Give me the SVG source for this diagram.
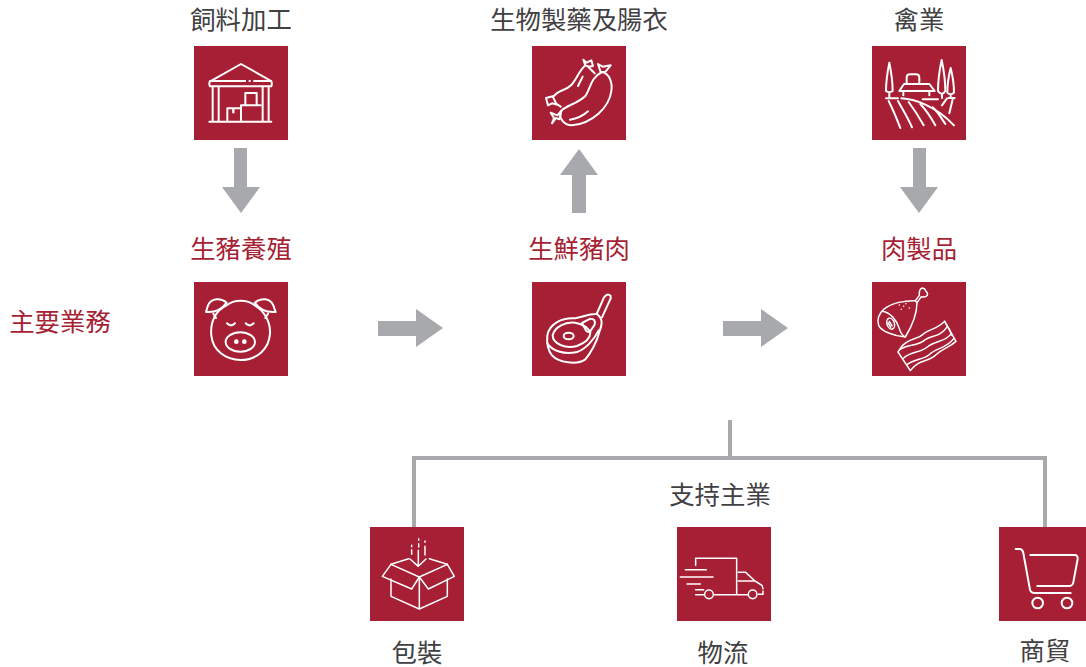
<svg xmlns="http://www.w3.org/2000/svg" width="1086" height="667" viewBox="0 0 1086 667">
<style>
text{font-family:"Noto Sans CJK TC","Noto Sans CJK SC",sans-serif;font-size:25.4px;fill:#414042;text-anchor:middle}
text.r{fill:#a61f35}
.b{fill:#a61f35}
.i{fill:none;stroke:#fff;stroke-width:6;stroke-linecap:round;stroke-linejoin:round}
.t{stroke-width:4.5}
.ar{fill:#a7a9ac}
.ln{fill:none;stroke:#a7a9ac;stroke-width:4}
</style>
<rect width="1086" height="667" fill="#fff"/>
<g id="connectors">
<path class="ar" d="M234 148H247V187H260L241 213L222 187H234Z"/>
<path class="ar" d="M572 213H586V175H598L579 149L560 175H572Z"/>
<path class="ar" d="M913 148H926V187H938L919 213L900 187H913Z"/>
<path class="ar" d="M378 321H416V309L443 328L416 347V336H378Z"/>
<path class="ar" d="M723 321H761V309L788 328L761 347V336H723Z"/>
<path class="ln" d="M730 420V458M414 527V458H1045V527"/>
</g>
<text id="label-main" class="r" x="60" y="331">主要業務</text>
<text id="label-support" x="720" y="504">支持主業</text>

<g id="feed"><text x="241" y="29">飼料加工</text><rect class="b" x="194" y="46" width="94" height="94"/>
<g transform="translate(184 36) scale(.3333)"><g class="i">
<path d="M84 133L171 84L258 133"/><path d="M78 135H262Q265 143 262 151H78Q74 143 78 135Z"/>
<path d="M86 152V256M104 152V256M236 152V256M254 152V256M76 257H262"/>
<path d="M130 256V217H171V256M171 256V208H230M184 206V171H218V206"/></g>
<path d="M186 135h8M200 135h8" stroke="#a61f35" stroke-width="6" fill="none"/>
<path d="M148 218V232" stroke="#fff" stroke-width="7" fill="none"/></g></g>

<g id="biotech"><text x="579" y="29">生物製藥及腸衣</text><rect class="b" x="532" y="46" width="94" height="94"/>
<g transform="translate(522 36) scale(.3333)"><g class="i">
<path d="M188 90C172 104 162 132 148 147C130 165 112 160 94 182"/>
<path d="M198 92C204 98 212 106 218 112M104 204L116 212"/>
<path d="M184 71L194 80L208 73L213 90L200 92L190 88Z"/><path d="M72 186L92 181L104 206L90 202L78 208Z"/>
<path d="M240 108C262 112 272 140 268 165C262 215 210 262 150 268C125 268 108 245 118 225C130 208 165 205 190 180C205 160 205 125 240 108Z"/>
<path d="M228 84L242 92L266 88L250 108H236Z"/><path d="M86 230L106 238L118 224L112 250L102 246L90 262L96 246Z"/>
<path d="M144 251C165 248 185 238 198 226M168 150L182 122"/></g></g></g>

<g id="poultry"><text x="919" y="29">禽業</text><rect class="b" x="872" y="46" width="94" height="94"/>
<g transform="translate(862 36) scale(.3333)"><g class="i">
<path d="M82 80C76 110 72 145 72 165Q82 172 92 165C92 145 88 110 82 80ZM82 170V186"/>
<path d="M239 72C232 105 228 145 228 165Q240 182 250 165C250 145 246 105 239 72ZM240 175V186"/>
<path d="M266 96C260 120 256 150 256 170Q266 180 276 170C276 150 272 120 266 96ZM266 180V186"/>
<path d="M72 187H108M118 187C160 190 220 210 276 268M182 190H228M260 186H278"/>
<path d="M134 143V125Q134 115 144 115H162Q172 115 172 125V143"/><path d="M112 165L126 144H202L218 165ZM124 166V178M202 166V178"/>
<path d="M80 195C95 225 105 250 115 276M108 195C125 225 140 250 150 274M140 198C160 225 175 250 185 268M175 204C195 225 210 250 220 268M212 214C230 230 240 250 250 264M240 208L255 187M262 232L272 190"/></g></g></g>

<g id="hog"><text class="r" x="241" y="258">生豬養殖</text><rect class="b" x="194" y="282" width="94" height="94"/>
<g transform="translate(184 272) scale(.3333)"><g class="i">
<path d="M128 100C95 115 78 150 82 190C86 235 125 264 170 264C220 264 255 230 258 185C260 150 240 115 212 100C190 82 150 82 128 100Z"/>
<path d="M128 92C110 76 82 78 72 100L66 120C90 122 112 115 128 92Z"/><path d="M212 92C232 76 258 78 268 100L275 120C250 122 228 115 212 92Z"/>
<path d="M88 125L96 138M252 125L244 138"/>
<path d="M129 154Q141 166 153 154M185 154Q197 166 209 154"/>
<ellipse cx="169" cy="210" rx="44" ry="29"/></g>
<circle cx="157" cy="209" r="7" fill="#fff"/><circle cx="181" cy="209" r="7" fill="#fff"/></g></g>

<g id="meat"><text class="r" x="579" y="258">生鮮豬肉</text><rect class="b" x="532" y="282" width="94" height="94"/>
<g transform="translate(522 272) scale(.3333)"><g class="i">
<path d="M224 126L246 76Q256 62 266 72Q268 80 262 88L240 136"/>
<path d="M224 126C205 124 180 136 160 139C120 136 82 155 76 190C74 210 78 235 90 250C110 272 165 280 190 262C205 245 225 210 232 180C240 160 245 140 224 126Z"/>
<path d="M76 215C90 235 125 250 165 240C190 232 215 205 230 175"/>
<path d="M160 152C130 148 98 165 92 190C92 215 130 232 165 222C190 212 205 198 205 182C198 165 180 156 160 152Z"/>
<path d="M180 153L205 140Q222 140 218 158L205 178Q198 182 192 176Z"/>
<ellipse cx="140" cy="192" rx="15" ry="10"/></g></g></g>

<g id="products"><text class="r" x="919" y="258">肉製品</text><rect class="b" x="872" y="282" width="94" height="94"/>
<g transform="translate(862 272) scale(.3333)"><g class="i t">
<path d="M160 86L172 70Q170 50 182 48Q190 50 192 58Q198 62 196 70Q190 78 178 74L165 92"/>
<path d="M160 86C130 85 90 92 65 112C50 125 44 145 50 160C58 178 95 192 130 195C145 170 165 130 165 92Z"/>
<path d="M62 118C85 122 105 145 112 170C115 180 120 190 128 194"/>
<ellipse cx="86" cy="155" rx="11" ry="17" transform="rotate(-18 86 155)"/><path d="M82 148L90 162M78 152L86 166"/>
<path d="M112 99v.1M125 103v.1M132 95v.1M118 112v.1M142 108v.1"/>
<path d="M120 222C145 195 165 205 185 185C205 170 225 172 248 148L282 208C260 228 240 230 220 250C195 272 170 262 145 296L108 240Z"/>
<path d="M115 232C140 215 165 225 190 203C210 190 235 195 256 164M125 258C150 235 175 245 200 222C225 205 250 210 268 185M135 278C160 258 185 265 205 245C225 228 255 228 275 200"/>
<path d="M248 148L262 172L270 190"/></g></g></g>

<g id="packaging"><text x="417" y="662">包裝</text><rect class="b" x="370" y="527" width="94" height="94"/>
<g transform="translate(360 517) scale(.3333)"><g class="i t">
<path d="M93 186V238L178 276L262 238V186M178 180V276"/>
<path d="M178 180L93 142L67 178L155 216Z"/><path d="M178 180L262 142L283 178L205 216Z"/>
<path d="M93 142L146 125M262 142L208 125M150 126L175 148L198 126M175 146V100"/>
<path d="M155 85V89M155 98V112M176 65V70M176 80V90M195 72V76M195 88V114"/></g></g></g>

<g id="logistics"><text x="723" y="662">物流</text><rect class="b" x="677" y="527" width="94" height="94"/>
<g transform="translate(667 517) scale(.3333)"><g class="i t">
<path d="M86 145V124H209V218"/><path d="M55 158H118M40 180H138M60 201H100M86 218H110M86 233H110M142 233H242M209 218V233"/>
<path d="M214 166H236L264 192L285 205L288 215M214 192H264M274 232H288V222"/>
<circle cx="126" cy="232" r="13"/><circle cx="257" cy="232" r="13"/></g></g></g>

<g id="trade"><text x="1045" y="660">商貿</text><rect class="b" x="999" y="527" width="87" height="94"/>
<g transform="translate(972 517) scale(.3333)"><g class="i">
<path d="M131 96H144Q152 97 154 108L174 218Q176 228 188 228H296"/>
<path d="M175 114H308Q318 114 317 126L304 196Q302 207 290 207H196"/>
<circle cx="197" cy="258" r="16"/><circle cx="285" cy="258" r="16"/></g></g></g>
</svg>
